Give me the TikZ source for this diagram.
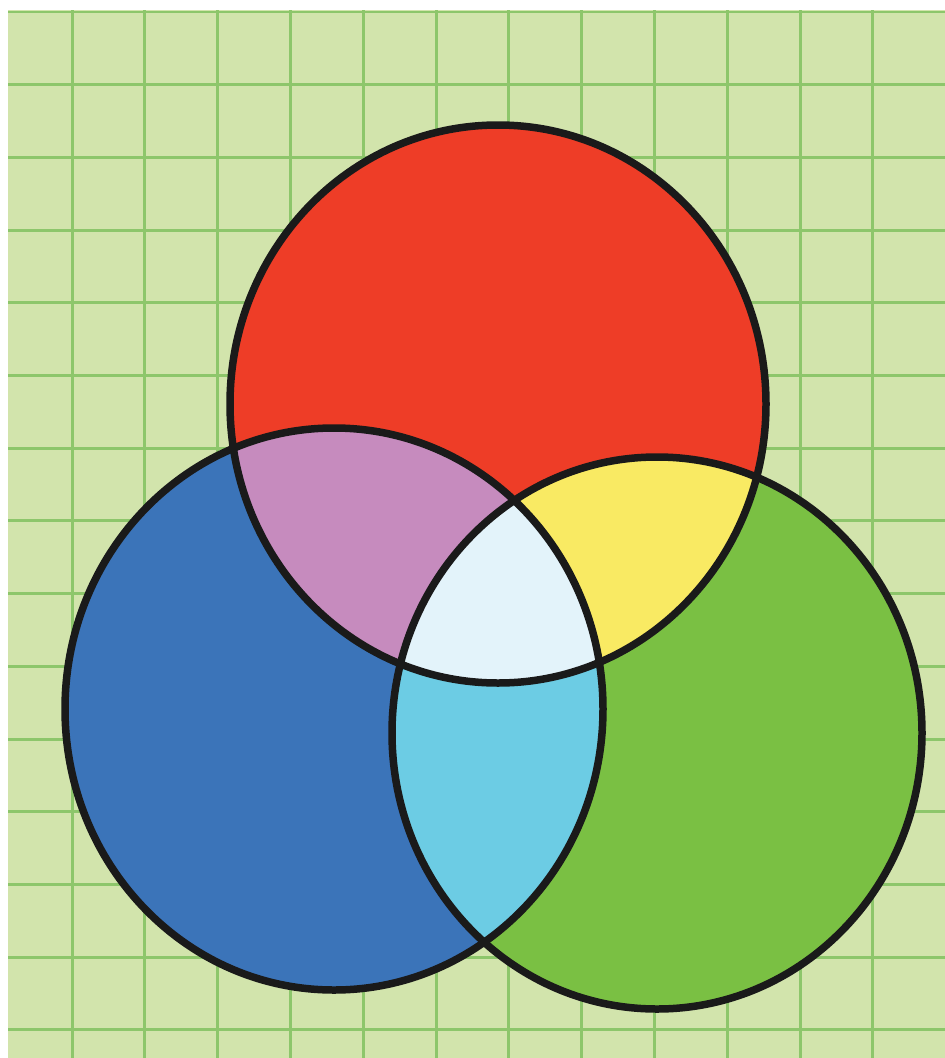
\documentclass[tikz,border=0pt]{standalone}
\usepackage{tikz}
\definecolor{paper}{HTML}{D2E4AC}
\definecolor{gridline}{HTML}{8DC66B}
\definecolor{vred}{HTML}{EE3D27}
\definecolor{vblue}{HTML}{3B74B9}
\definecolor{vgreen}{HTML}{7AC043}
\definecolor{vpurple}{HTML}{C68BBE}
\definecolor{vyellow}{HTML}{F9EA63}
\definecolor{vcyan}{HTML}{6CCCE4}
\definecolor{vwhite}{HTML}{E3F3FA}
\definecolor{ink}{HTML}{1A1A1A}

\begin{document}
\begin{tikzpicture}[x=0.02cm, y=-0.02cm,
    rim/.style={draw=ink, line width=0.15cm},
    grid line/.style={gridline, line width=0.06cm}]
    \useasboundingbox (0,0) rectangle (945,1058);
    \fill[white] (0,0) rectangle (945,1058);
    \fill[paper] (8,10) rectangle (945,1058);

    \foreach \k in {0,...,11} \draw[grid line] (72+72.8*\k,10) -- (72+72.8*\k,1058);
    \foreach \k in {0,...,14} \draw[grid line] (8,12+72.7*\k) -- (945,12+72.7*\k);

    \coordinate (R) at (498,404);
    \coordinate (B) at (334,709);
    \coordinate (G) at (657,733);

    \fill[vred] (R) ellipse (268 and 279);
    \fill[vblue] (B) ellipse (269 and 281);
    \fill[vgreen] (G) ellipse (265 and 276);

    \begin{scope}
      \clip (R) ellipse (268 and 279);
      \fill[vpurple] (B) ellipse (269 and 281);
      \fill[vyellow] (G) ellipse (265 and 276);
    \end{scope}
    \begin{scope}
      \clip (B) ellipse (269 and 281);
      \fill[vcyan] (G) ellipse (265 and 276);
    \end{scope}
    \begin{scope}
      \clip (R) ellipse (268 and 279);
      \clip (B) ellipse (269 and 281);
      \fill[vwhite] (G) ellipse (265 and 276);
    \end{scope}

    \draw[rim] (R) ellipse (268 and 279);
    \draw[rim] (B) ellipse (269 and 281);
    \draw[rim] (G) ellipse (265 and 276);
\end{tikzpicture}
\end{document}
